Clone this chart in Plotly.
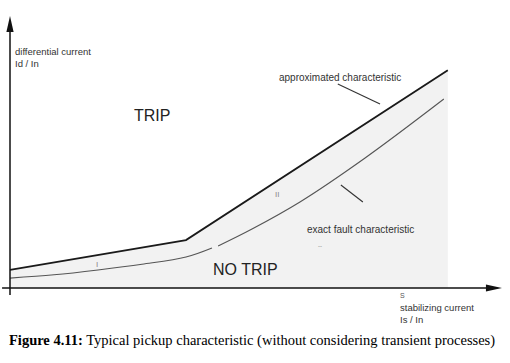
import plotly.graph_objects as go

# ---- data (abstract units: Is/In on x, Id/In on y) ----
approx_x = [0.0, 4.0, 9.95]
approx_y = [0.82, 2.18, 9.9]

exact_x1 = [0.0, 1.0, 2.0, 3.0, 4.0, 4.59]
exact_y1 = [0.45, 0.60, 0.82, 1.08, 1.41, 1.82]
exact_x2 = [4.73, 5.5, 6.59, 8.07, 9.86]
exact_y2 = [1.91, 2.68, 3.91, 5.91, 8.59]

approx_leader_x = [7.45, 8.41]
approx_leader_y = [9.27, 8.36]
exact_leader_x = [7.52, 8.02]
exact_leader_y = [4.68, 3.91]

x_axis_end = 11.18
y_axis_end = 12.36
axis_start_x = -0.18
axis_start_y = -0.32

# ---- scale (px per unit) ----
W, H = 510, 363
PX_X = 44.0
PX_Y = 22.0
x0_px, y0_px = 10, 288
xr = [-x0_px / PX_X, (W - x0_px) / PX_X]
yr = [-(H - y0_px) / PX_Y, y0_px / PX_Y]

fig = go.Figure()

fig.add_trace(go.Scatter(x=approx_x, y=approx_y, mode="lines", fill="tozeroy",
                         fillcolor="#f2f2f2", line=dict(color="#1a1a1a", width=1.8),
                         hoverinfo="skip", showlegend=False))
fig.add_trace(go.Scatter(x=exact_x1 + [None] + exact_x2, y=exact_y1 + [None] + exact_y2,
                         mode="lines", line=dict(color="#555555", width=1.1, shape="spline"),
                         connectgaps=False, hoverinfo="skip", showlegend=False))
for lx, ly in [(approx_leader_x, approx_leader_y), (exact_leader_x, exact_leader_y)]:
    fig.add_trace(go.Scatter(x=lx, y=ly, mode="lines", line=dict(color="#333333", width=1.1),
                             hoverinfo="skip", showlegend=False))

# axes lines
shapes = [
    dict(type="line", xref="x", yref="y", x0=axis_start_x, y0=0, x1=x_axis_end - 10 / PX_X, y1=0,
         line=dict(color="#111111", width=1.5)),
    dict(type="line", xref="x", yref="y", x0=0, y0=axis_start_y, x1=0, y1=y_axis_end - 12 / PX_Y,
         line=dict(color="#111111", width=1.5)),
]
# arrowheads
hl, hw = 16, 3.6
shapes.append(dict(type="path", xref="x", yref="y",
                   path=f"M{x_axis_end},0 L{x_axis_end - hl / PX_X},{hw / PX_Y} L{x_axis_end - hl / PX_X},{-hw / PX_Y} Z",
                   fillcolor="#111111", line=dict(width=0)))
shapes.append(dict(type="path", xref="x", yref="y",
                   path=f"M0,{y_axis_end} L{hw / PX_X},{y_axis_end - hl / PX_Y} L{-hw / PX_X},{y_axis_end - hl / PX_Y} Z",
                   fillcolor="#111111", line=dict(width=0)))

sans = "Liberation Sans, Arial, sans-serif"
def txt(x, y, s, size=10, color="#333333", xanchor="left"):
    return dict(x=x, y=y, xref="x", yref="y", text=s, showarrow=False, xanchor=xanchor,
                yanchor="middle", font=dict(family=sans, size=size, color=color))

ann = [
    txt(0.07, (288 - 51) / PX_Y, "differential current", size=9.5),
    txt(0.07, (288 - 63) / PX_Y, "Id / In", size=9.5),
    txt(6.07, 9.59, "approximated characteristic"),
    txt(6.70, 2.64, "exact fault characteristic"),
    txt(6.95, 1.91, "--", size=6, color="#777777"),
    txt(3.23, 7.86, "TRIP", size=16, color="#222222", xanchor="center"),
    txt(5.36, 0.82, "NO TRIP", size=16, color="#222222", xanchor="center"),
    txt(6.07, 4.27, "II", size=8, color="#888888", xanchor="center"),
    txt(1.98, 1.09, "I", size=8, color="#888888", xanchor="center"),
    txt(8.82, -0.36, "S", size=7, color="#555555"),
    txt(8.82, (288 - 307) / PX_Y, "stabilizing current", size=9.5),
    txt(8.82, (288 - 319) / PX_Y, "Is / In", size=9.5),
    dict(x=252 / W, y=1 - 340 / H, xref="paper", yref="paper", showarrow=False,
         xanchor="center", yanchor="middle",
         text="<b>Figure 4.11:</b> Typical pickup characteristic (without considering transient processes)",
         font=dict(family="Liberation Serif, Times New Roman, serif", size=14.5, color="#000000")),
]

fig.update_layout(
    width=W, height=H, margin=dict(l=0, r=0, t=0, b=0),
    paper_bgcolor="white", plot_bgcolor="white",
    xaxis=dict(range=xr, visible=False, fixedrange=True),
    yaxis=dict(range=yr, visible=False, fixedrange=True),
    shapes=shapes, annotations=ann, showlegend=False,
)

fig.write_html("out.html", config={"displayModeBar": False},
               post_script="document.body.style.margin='0';document.body.style.overflow='hidden';")
